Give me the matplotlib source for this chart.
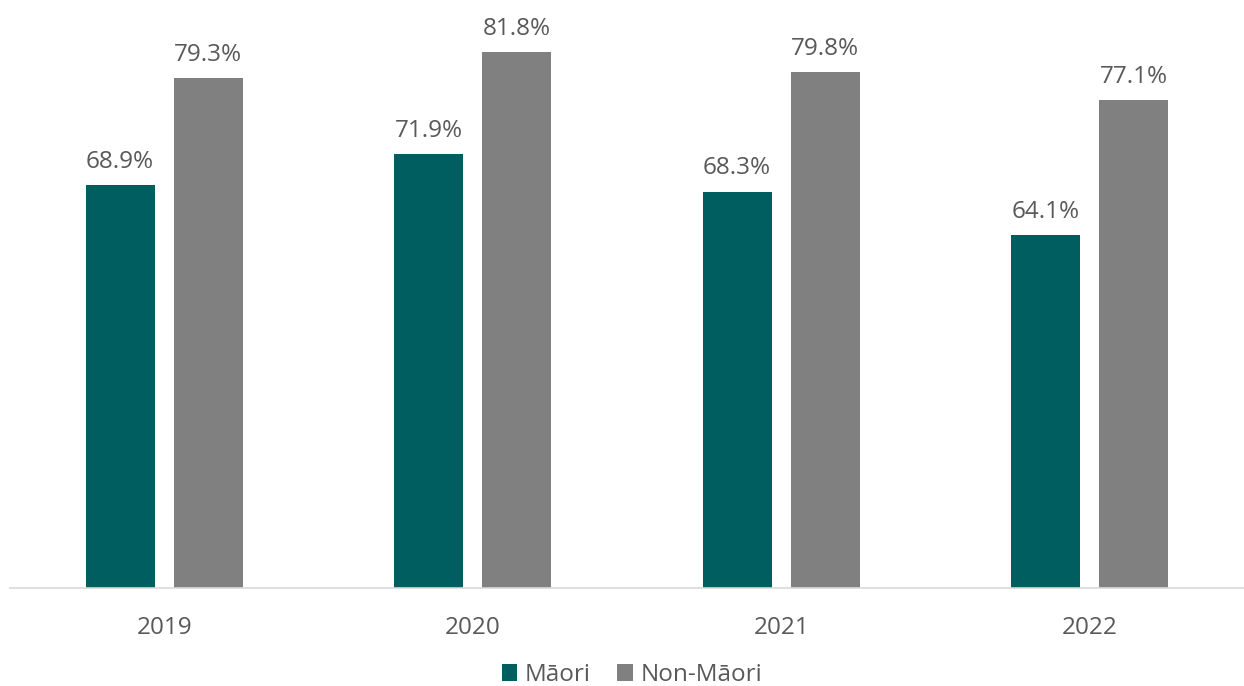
import numpy as np
import matplotlib
matplotlib.use("Agg")
import matplotlib.pyplot as plt

years = ["2019", "2020", "2021", "2022"]
maori = [68.9, 71.9, 68.3, 64.1]
non_maori = [79.3, 81.8, 79.8, 77.1]

teal = "#005E60"
grey = "#808080"
txt = "#595959"

plt.rcParams['font.family'] = ['Open Sans', 'DejaVu Sans']

fig = plt.figure(figsize=(12.44, 6.86), dpi=100)
ax = fig.add_axes([10 / 1244, 98 / 686, 1234 / 1244, 588 / 686])

x = np.arange(len(years))
w = 0.223
off = 0.143
b1 = ax.bar(x - off, maori, w, color=teal, label="Māori")
b2 = ax.bar(x + off, non_maori, w, color=grey, label="Non-Māori")

for bars, vals in [(b1, maori), (b2, non_maori)]:
    for b, v in zip(bars, vals):
        ax.annotate(f"{v:.1f}%", (b.get_x() + b.get_width() / 2, v),
                    xytext=(0, 8), textcoords="offset points",
                    ha="center", va="bottom", fontsize=17.5, color=txt)

ax.set_xlim(-0.5, len(years) - 0.5)
ax.set_ylim(30, 86.8)
ax.set_xticks(x)
ax.set_xticklabels(years, fontsize=17.5, color=txt)
ax.tick_params(axis='x', length=0, pad=20)
ax.set_yticks([])
for s in ["top", "right", "left"]:
    ax.spines[s].set_visible(False)
ax.spines["bottom"].set_color("#D9D9D9")
ax.spines["bottom"].set_linewidth(1.2)

fig.legend(loc="center", bbox_to_anchor=(0.508, 0.016), ncol=2, frameon=False,
           fontsize=17.5, labelcolor=txt, handlelength=0.65, handleheight=0.65,
           handletextpad=0.3, columnspacing=1.1, borderpad=0)

fig.savefig("out.png", dpi=100)
